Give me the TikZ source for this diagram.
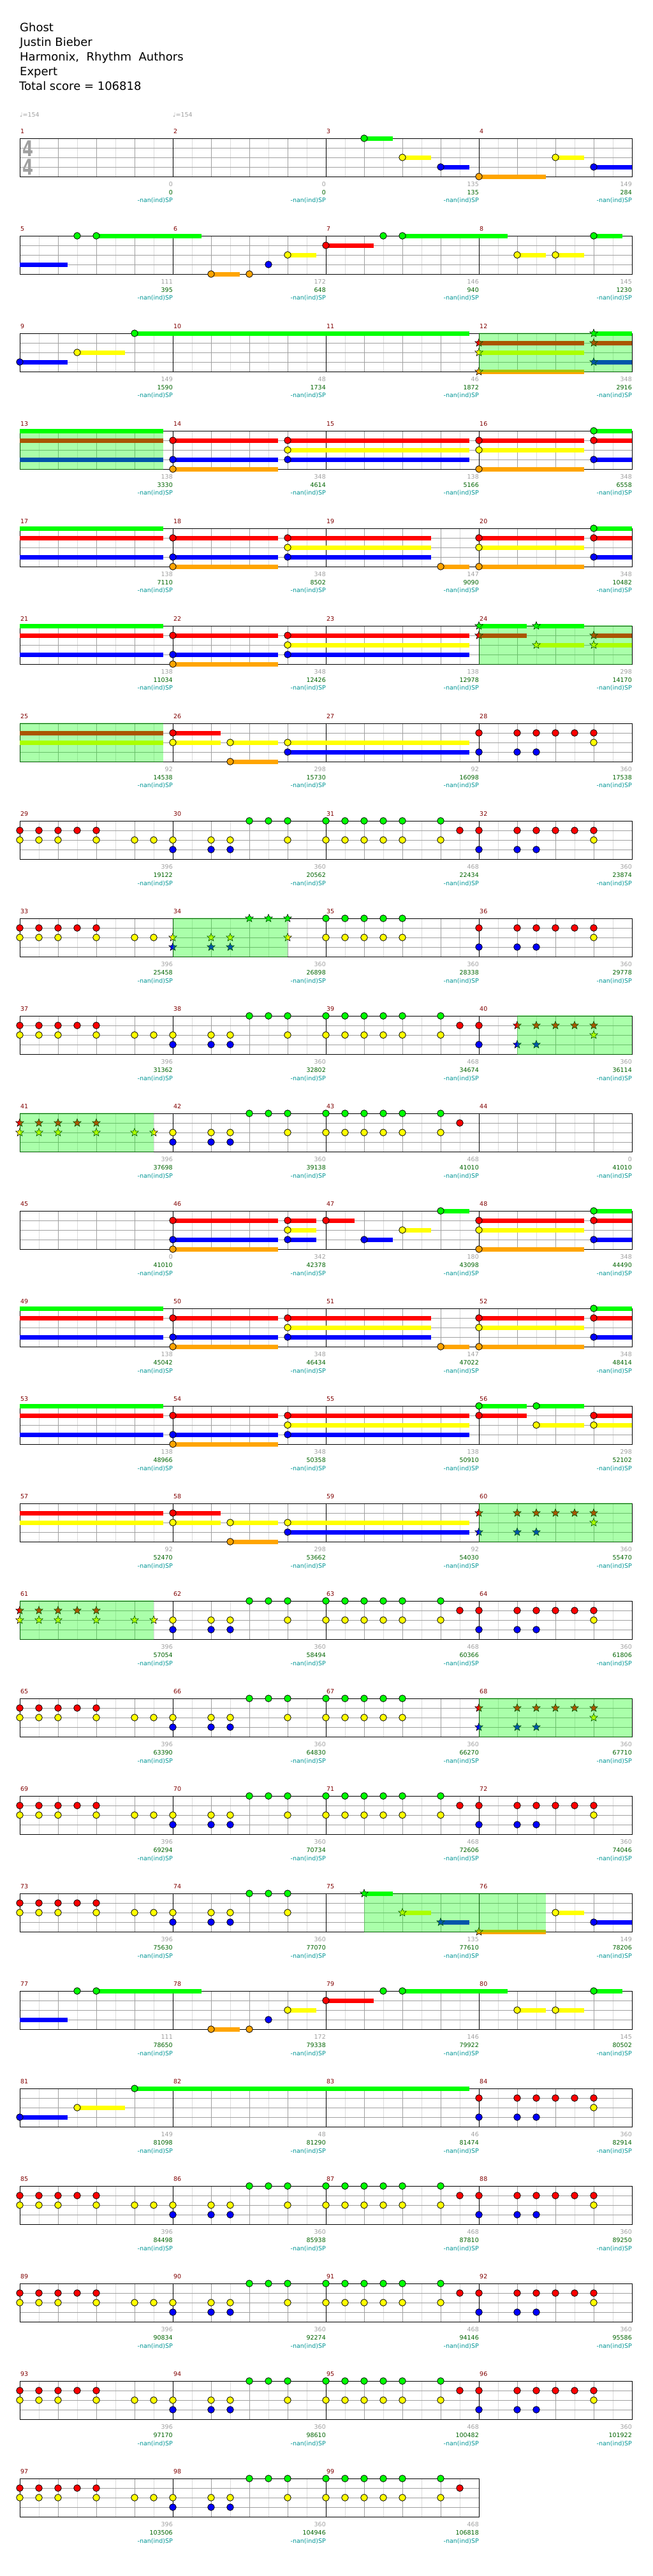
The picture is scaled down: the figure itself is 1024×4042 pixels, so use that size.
\documentclass[tikz,border=0pt]{standalone}
\usepackage{fontspec}
\setmainfont{DejaVu Sans}
\usetikzlibrary{shapes.geometric}

\definecolor{lane0}{RGB}{0,255,0}
\definecolor{lane1}{RGB}{255,0,0}
\definecolor{lane2}{RGB}{255,255,0}
\definecolor{lane3}{RGB}{0,0,255}
\definecolor{lane4}{RGB}{255,165,0}
\definecolor{beatgray}{RGB}{160,160,160}
\definecolor{minorgray}{RGB}{220,220,220}
\definecolor{numred}{RGB}{128,0,0}
\definecolor{scoregreen}{RGB}{0,100,0}
\definecolor{spteal}{RGB}{0,150,150}

\tikzset{
  minorline/.style={minorgray, line width=1pt},
  beatline/.style={beatgray, line width=1pt},
  barline/.style={black, line width=1pt},
  measnum/.style={anchor=west, inner sep=0, text=numred, font=\fontsize{9.5}{10}\selectfont},
  notecount/.style={anchor=east, inner sep=0, text=beatgray, font=\fontsize{9.5}{10}\selectfont},
  scoretext/.style={anchor=east, inner sep=0, text=scoregreen, font=\fontsize{9.5}{10}\selectfont},
  sptext/.style={anchor=east, inner sep=0, text=spteal, font=\fontsize{9.5}{10}\selectfont},
  titletext/.style={anchor=base west, inner sep=0, font=\fontsize{18}{18}\selectfont},
  spstar/.style={star, star points=5, star point ratio=2.3, minimum size=13pt,
    inner sep=0, draw=black, line width=0.6pt}
}

% one row of the chart: #1 row, #2 first measure, #3 count/score list, #4 notes
\newcommand\chartrow[4]{%
  \pgfmathsetmacro\rowtop{217+153*(#1-1)}
  \begin{scope}[shift={(31,\rowtop)}]
    \foreach \g/\s [count=\c from 0] in {#3}{
      \foreach \k in {1,3,5,7} \draw[minorline] (240*\c+30*\k,0) -- ++(0,60);
      \foreach \k in {2,4,6} \draw[beatline] (240*\c+30*\k,0) -- ++(0,60);
      \foreach \k in {1,2,3} \draw[beatline] (240*\c,15*\k) -- ++(240,0);
    }
    \foreach \g/\s [count=\c from 0] in {#3}{
      \pgfmathtruncatemacro\mnum{#2+\c}
      \draw[barline] (240*\c,0) rectangle ++(240,60);
      \node[measnum] (m\mnum) at (240*\c+1,-11) {\mnum};
      \node[notecount] (n\mnum) at (240*\c+240,72) {\g};
      \node[scoretext] (s\mnum) at (240*\c+240,85) {\s};
      \node[sptext] (p\mnum) at (240*\c+240,98) {-nan(ind)SP};
    }
    #4
  \end{scope}}
\newcommand\holds[2]{\foreach \a/\b in {#2}{\fill[lane#1] (30*\a,15*#1-3.5) rectangle (30*\b,15*#1+3.5);}}
\newcommand\gems[2]{\foreach \e in {#2}{\draw[line width=0.8pt, fill=lane#1] (30*\e,15*#1) circle (5.3);}}
\newcommand\stars[2]{\foreach \e in {#2}{\node[spstar, fill=lane#1] at (30*\e,15*#1) {};}}
\newcommand\spzone[2]{\fill[lane0, opacity=0.333] (30*#1,-0.6) rectangle (30*#2,60.6);}

\begin{document}
\begin{tikzpicture}[x=1pt, y=-1pt]
  \useasboundingbox[fill=white] (0,0) rectangle (1024,4042);

  % Header
  \node[titletext] (title)  at (31,49)  {Ghost};
  \node[titletext] (artist) at (31,72)  {Justin Bieber};
  \node[titletext] (author) at (31,95)  {Harmonix,\ \ Rhythm\ \ Authors};
  \node[titletext] (level)  at (31,118) {Expert};
  \node[titletext] (total)  at (30,141) {Total score = 106818};

  % Tempo and metre
  \node[anchor=west, inner sep=0, text=beatgray, font=\fontsize{9.5}{10}\selectfont] (bpm1) at (31,180) {♩=154};
  \node[anchor=west, inner sep=0, text=beatgray, font=\fontsize{9.5}{10}\selectfont] (bpm2) at (271,180) {♩=154};

  % Row 1
  \chartrow{1}{1}{0/0, 0/0, 135/135, 149/284}{
    \node[text=beatgray, font=\fontsize{34}{34}\selectfont\bfseries, inner sep=0] (sigtop) at (13,16) {\scalebox{0.72}[1]{4}};
    \node[text=beatgray, font=\fontsize{34}{34}\selectfont\bfseries, inner sep=0] (sigbot) at (13,45) {\scalebox{0.72}[1]{4}};
    \holds{0}{18/19.5} \holds{2}{20/21.5, 28/29.5} \holds{3}{22/23.5, 30/32} \holds{4}{24/27.5}
    \gems{0}{18} \gems{2}{20,28} \gems{3}{22,30} \gems{4}{24}
  }
  % Row 2
  \chartrow{2}{5}{111/395, 172/648, 146/940, 145/1230}{
    \holds{3}{0/2.5} \holds{0}{4/9.5, 20/25.5, 30/31.5} \holds{4}{10/11.5}
    \holds{2}{14/15.5, 26/27.5, 28/29.5} \holds{1}{16/18.5}
    \gems{0}{3,4,19,20,30} \gems{4}{10,12} \gems{3}{13} \gems{2}{14,26,28} \gems{1}{16}
  }
  % Row 3
  \chartrow{3}{9}{149/1590, 48/1734, 46/1872, 348/2916}{
    \holds{3}{0/2.5, 30/32} \holds{2}{3/5.5, 24/29.5} \holds{0}{6/23.5, 30/32}
    \holds{1}{24/29.5, 30/32} \holds{4}{24/29.5}
    \gems{3}{0} \gems{2}{3} \gems{0}{6}
    \stars{1}{24,30} \stars{2}{24} \stars{4}{24} \stars{0}{30} \stars{3}{30}
    \spzone{24}{32}
  }
  % Row 4
  \chartrow{4}{13}{138/3330, 348/4614, 138/5166, 348/6558}{
    \holds{0}{0/7.5, 30/32} \holds{1}{0/7.5, 8/13.5, 14/23.5, 24/29.5, 30/32}
    \holds{3}{0/7.5, 8/13.5, 14/23.5, 30/32} \holds{4}{8/13.5, 24/29.5} \holds{2}{14/23.5, 24/29.5}
    \gems{1}{8,14,24,30} \gems{3}{8,14,30} \gems{4}{8,24} \gems{2}{14,24} \gems{0}{30}
    \spzone{0}{7.5}
  }
  % Row 5
  \chartrow{5}{17}{138/7110, 348/8502, 147/9090, 348/10482}{
    \holds{0}{0/7.5, 30/32} \holds{1}{0/7.5, 8/13.5, 14/21.5, 24/29.5, 30/32}
    \holds{3}{0/7.5, 8/13.5, 14/21.5, 30/32} \holds{4}{8/13.5, 22/23.5, 24/29.5} \holds{2}{14/21.5, 24/29.5}
    \gems{1}{8,14,24,30} \gems{3}{8,14,30} \gems{4}{8,22,24} \gems{2}{14,24} \gems{0}{30}
  }
  % Row 6
  \chartrow{6}{21}{138/11034, 348/12426, 138/12978, 298/14170}{
    \holds{0}{0/7.5, 24/26.5, 27/29.5} \holds{1}{0/7.5, 8/13.5, 14/23.5, 24/26.5, 30/32}
    \holds{3}{0/7.5, 8/13.5, 14/23.5} \holds{4}{8/13.5} \holds{2}{14/23.5, 27/29.5, 30/32}
    \gems{1}{8,14} \gems{3}{8,14} \gems{4}{8} \gems{2}{14}
    \stars{0}{24,27} \stars{1}{24,30} \stars{2}{27,30}
    \spzone{24}{32}
  }
  % Row 7
  \chartrow{7}{25}{92/14538, 298/15730, 92/16098, 360/17538}{
    \holds{1}{0/7.5, 8/10.5} \holds{2}{0/7.5, 8/10.5, 11/13.5, 14/23.5} \holds{4}{11/13.5} \holds{3}{14/23.5}
    \gems{1}{8,24,26,27,28,29,30} \gems{2}{8,11,14,30} \gems{4}{11} \gems{3}{14,24,26,27}
    \spzone{0}{7.5}
  }
  % Row 8
  \chartrow{8}{29}{396/19122, 360/20562, 468/22434, 360/23874}{
    \gems{1}{0,1,2,3,4,23,24,26,27,28,29,30}
    \gems{2}{0,1,2,4,6,7,8,10,11,14,16,17,18,19,20,22,30}
    \gems{3}{8,10,11,24,26,27} \gems{0}{12,13,14,16,17,18,19,20,22}
  }
  % Row 9
  \chartrow{9}{33}{396/25458, 360/26898, 360/28338, 360/29778}{
    \gems{1}{0,1,2,3,4,24,26,27,28,29,30} \gems{2}{0,1,2,4,6,7,16,17,18,19,20,30}
    \gems{0}{16,17,18,19,20} \gems{3}{24,26,27}
    \stars{2}{8,10,11,14} \stars{3}{8,10,11} \stars{0}{12,13,14}
    \spzone{8}{14}
  }
  % Row 10
  \chartrow{10}{37}{396/31362, 360/32802, 468/34674, 360/36114}{
    \gems{1}{0,1,2,3,4,23,24} \gems{2}{0,1,2,4,6,7,8,10,11,14,16,17,18,19,20,22}
    \gems{3}{8,10,11,24} \gems{0}{12,13,14,16,17,18,19,20,22}
    \stars{1}{26,27,28,29,30} \stars{2}{30} \stars{3}{26,27}
    \spzone{26}{32}
  }
  % Row 11
  \chartrow{11}{41}{396/37698, 360/39138, 468/41010, 0/41010}{
    \stars{1}{0,1,2,3,4} \stars{2}{0,1,2,4,6,7}
    \gems{2}{8,10,11,14,16,17,18,19,20,22} \gems{3}{8,10,11}
    \gems{0}{12,13,14,16,17,18,19,20,22} \gems{1}{23}
    \spzone{0}{7}
  }
  % Row 12
  \chartrow{12}{45}{0/41010, 342/42378, 180/43098, 348/44490}{
    \holds{1}{8/13.5, 14/15.5, 16/17.5, 24/29.5, 30/32} \holds{3}{8/13.5, 14/15.5, 18/19.5, 30/32}
    \holds{4}{8/13.5, 24/29.5} \holds{2}{14/15.5, 20/21.5, 24/29.5} \holds{0}{22/23.5, 30/32}
    \gems{1}{8,14,16,24,30} \gems{3}{8,14,18,30} \gems{4}{8,24} \gems{2}{14,20,24} \gems{0}{22,30}
  }
  % Row 13
  \chartrow{13}{49}{138/45042, 348/46434, 147/47022, 348/48414}{
    \holds{0}{0/7.5, 30/32} \holds{1}{0/7.5, 8/13.5, 14/21.5, 24/29.5, 30/32}
    \holds{3}{0/7.5, 8/13.5, 14/21.5, 30/32} \holds{4}{8/13.5, 22/23.5, 24/29.5} \holds{2}{14/21.5, 24/29.5}
    \gems{1}{8,14,24,30} \gems{3}{8,14,30} \gems{4}{8,22,24} \gems{2}{14,24} \gems{0}{30}
  }
  % Row 14
  \chartrow{14}{53}{138/48966, 348/50358, 138/50910, 298/52102}{
    \holds{0}{0/7.5, 24/26.5, 27/29.5} \holds{1}{0/7.5, 8/13.5, 14/23.5, 24/26.5, 30/32}
    \holds{3}{0/7.5, 8/13.5, 14/23.5} \holds{4}{8/13.5} \holds{2}{14/23.5, 27/29.5, 30/32}
    \gems{1}{8,14,24,30} \gems{3}{8,14} \gems{4}{8} \gems{2}{14,27,30} \gems{0}{24,27}
  }
  % Row 15
  \chartrow{15}{57}{92/52470, 298/53662, 92/54030, 360/55470}{
    \holds{1}{0/7.5, 8/10.5} \holds{2}{0/7.5, 8/10.5, 11/13.5, 14/23.5} \holds{4}{11/13.5} \holds{3}{14/23.5}
    \gems{1}{8} \gems{2}{8,11,14} \gems{4}{11} \gems{3}{14}
    \stars{1}{24,26,27,28,29,30} \stars{2}{30} \stars{3}{24,26,27}
    \spzone{24}{32}
  }
  % Row 16
  \chartrow{16}{61}{396/57054, 360/58494, 468/60366, 360/61806}{
    \stars{1}{0,1,2,3,4} \stars{2}{0,1,2,4,6,7}
    \gems{2}{8,10,11,14,16,17,18,19,20,22,30} \gems{3}{8,10,11,24,26,27}
    \gems{0}{12,13,14,16,17,18,19,20,22} \gems{1}{23,24,26,27,28,29,30}
    \spzone{0}{7}
  }
  % Row 17
  \chartrow{17}{65}{396/63390, 360/64830, 360/66270, 360/67710}{
    \gems{1}{0,1,2,3,4} \gems{2}{0,1,2,4,6,7,8,10,11,14,16,17,18,19,20}
    \gems{3}{8,10,11} \gems{0}{12,13,14,16,17,18,19,20}
    \stars{1}{24,26,27,28,29,30} \stars{2}{30} \stars{3}{24,26,27}
    \spzone{24}{32}
  }
  % Row 18
  \chartrow{18}{69}{396/69294, 360/70734, 468/72606, 360/74046}{
    \gems{1}{0,1,2,3,4,23,24,26,27,28,29,30}
    \gems{2}{0,1,2,4,6,7,8,10,11,14,16,17,18,19,20,22,30}
    \gems{3}{8,10,11,24,26,27} \gems{0}{12,13,14,16,17,18,19,20,22}
  }
  % Row 19
  \chartrow{19}{73}{396/75630, 360/77070, 135/77610, 149/78206}{
    \holds{0}{18/19.5} \holds{2}{20/21.5, 28/29.5} \holds{3}{22/23.5, 30/32} \holds{4}{24/27.5}
    \gems{1}{0,1,2,3,4} \gems{2}{0,1,2,4,6,7,8,10,11,14,28} \gems{3}{8,10,11,30}
    \gems{0}{12,13,14}
    \stars{0}{18} \stars{2}{20} \stars{3}{22} \stars{4}{24}
    \spzone{18}{27.5}
  }
  % Row 20
  \chartrow{20}{77}{111/78650, 172/79338, 146/79922, 145/80502}{
    \holds{3}{0/2.5} \holds{0}{4/9.5, 20/25.5, 30/31.5} \holds{4}{10/11.5}
    \holds{2}{14/15.5, 26/27.5, 28/29.5} \holds{1}{16/18.5}
    \gems{0}{3,4,19,20,30} \gems{4}{10,12} \gems{3}{13} \gems{2}{14,26,28} \gems{1}{16}
  }
  % Row 21
  \chartrow{21}{81}{149/81098, 48/81290, 46/81474, 360/82914}{
    \holds{3}{0/2.5} \holds{2}{3/5.5} \holds{0}{6/23.5}
    \gems{3}{0,24,26,27} \gems{2}{3,30} \gems{0}{6} \gems{1}{24,26,27,28,29,30}
  }
  % Row 22
  \chartrow{22}{85}{396/84498, 360/85938, 468/87810, 360/89250}{
    \gems{1}{0,1,2,3,4,23,24,26,27,28,29,30}
    \gems{2}{0,1,2,4,6,7,8,10,11,14,16,17,18,19,20,22,30}
    \gems{3}{8,10,11,24,26,27} \gems{0}{12,13,14,16,17,18,19,20,22}
  }
  % Row 23
  \chartrow{23}{89}{396/90834, 360/92274, 468/94146, 360/95586}{
    \gems{1}{0,1,2,3,4,23,24,26,27,28,29,30}
    \gems{2}{0,1,2,4,6,7,8,10,11,14,16,17,18,19,20,22,30}
    \gems{3}{8,10,11,24,26,27} \gems{0}{12,13,14,16,17,18,19,20,22}
  }
  % Row 24
  \chartrow{24}{93}{396/97170, 360/98610, 468/100482, 360/101922}{
    \gems{1}{0,1,2,3,4,23,24,26,27,28,29,30}
    \gems{2}{0,1,2,4,6,7,8,10,11,14,16,17,18,19,20,22,30}
    \gems{3}{8,10,11,24,26,27} \gems{0}{12,13,14,16,17,18,19,20,22}
  }
  % Row 25
  \chartrow{25}{97}{396/103506, 360/104946, 468/106818}{
    \gems{1}{0,1,2,3,4,23} \gems{2}{0,1,2,4,6,7,8,10,11,14,16,17,18,19,20,22}
    \gems{3}{8,10,11} \gems{0}{12,13,14,16,17,18,19,20,22}
  }
\end{tikzpicture}
\end{document}
